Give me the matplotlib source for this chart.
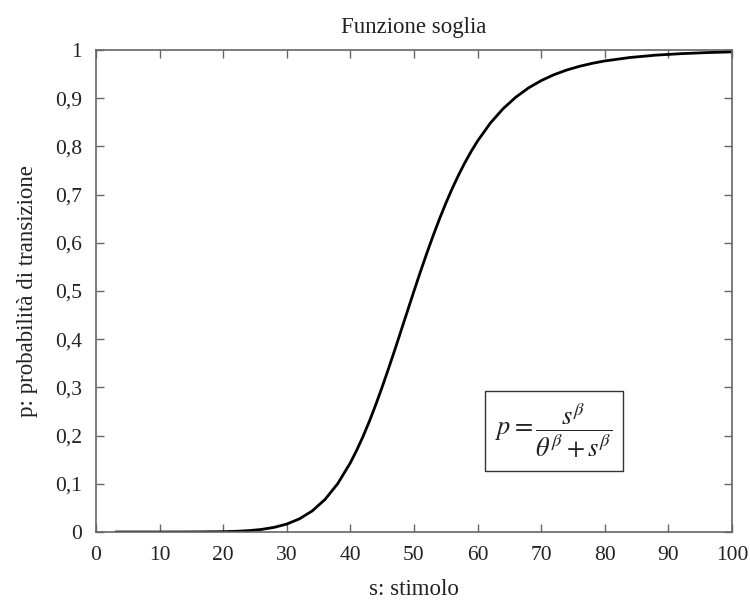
import matplotlib
matplotlib.use("Agg")
import matplotlib.pyplot as plt

plt.rcParams['font.family'] = ['Liberation Serif', 'DejaVu Serif']
plt.rcParams['mathtext.fontset'] = 'stix'

# values
s_vals = [3, 5, 10, 15, 20, 22, 24, 26, 28, 30, 32, 34, 36, 38, 40, 41, 42, 43, 44, 45, 46, 47, 48, 49, 50,
          51, 52, 53, 54, 55, 56, 57, 58, 59, 60, 62, 64, 66, 68, 70, 72, 74, 76, 78, 80, 84, 88, 92, 96, 100]
p_vals = [0.0, 0.0, 0.0, 0.0001, 0.0007, 0.0014, 0.0028, 0.0053, 0.0096, 0.0165, 0.0274,
          0.0437, 0.0674, 0.1002, 0.1437, 0.1699, 0.1986, 0.2302, 0.2645, 0.3010, 0.3392, 0.3786, 0.4191, 0.4596, 0.5,
          0.5396, 0.5778, 0.6145, 0.6493, 0.6820, 0.7123, 0.7404, 0.7663, 0.7898, 0.8113, 0.8483, 0.8781, 0.9021, 0.9213, 0.9365,
          0.9487, 0.9584, 0.9661, 0.9723, 0.9773, 0.9845, 0.9893, 0.9924, 0.9946, 0.9961]
x_ticks = [0, 10, 20, 30, 40, 50, 60, 70, 80, 90, 100]
x_labels = ['0', '10', '20', '30', '40', '50', '60', '70', '80', '90', '100']
y_ticks = [0, 0.1, 0.2, 0.3, 0.4, 0.5, 0.6, 0.7, 0.8, 0.9, 1]
y_labels = ['0', '0,1', '0,2', '0,3', '0,4', '0,5', '0,6', '0,7', '0,8', '0,9', '1']

fig = plt.figure(figsize=(7.5, 6.03), dpi=100)
ax = fig.add_axes([96/750, 1-532/603, (732-96)/750, (532-50)/603])
ax.plot(s_vals, p_vals, color='black', lw=2.0, solid_capstyle='butt', solid_joinstyle='round')
ax.set_xlim(0, 100)
ax.set_ylim(0, 1)
ax.set_xticks(x_ticks)
ax.set_xticklabels(x_labels)
ax.set_yticks(y_ticks)
ax.set_yticklabels(y_labels)
for sp in ax.spines.values():
    sp.set_color('#666666')
    sp.set_linewidth(1.2)
ax.tick_params(direction='in', top=True, right=True, length=6, width=1.0,
               color='#666666', labelsize=15.5, labelcolor='#222222')
ax.tick_params(axis='x', pad=10)
ax.tick_params(axis='y', pad=10)
ax.set_title('Funzione soglia', fontsize=16.5, color='#222222', pad=12)
ax.set_xlabel('s: stimolo', fontsize=16.5, color='#222222', labelpad=10)
ax.set_ylabel('p: probabilità di transizione', fontsize=16.5, color='#222222', labelpad=12)

ax.text(72, 0.21, r'$p=\dfrac{s^{\beta}}{\theta^{\beta}+s^{\beta}}$', fontsize=19,
        ha='center', va='center', color='#222222',
        bbox=dict(boxstyle='square,pad=0.4', fc='white', ec='#333333', lw=1.0))

fig.savefig('out.png', dpi=100)
